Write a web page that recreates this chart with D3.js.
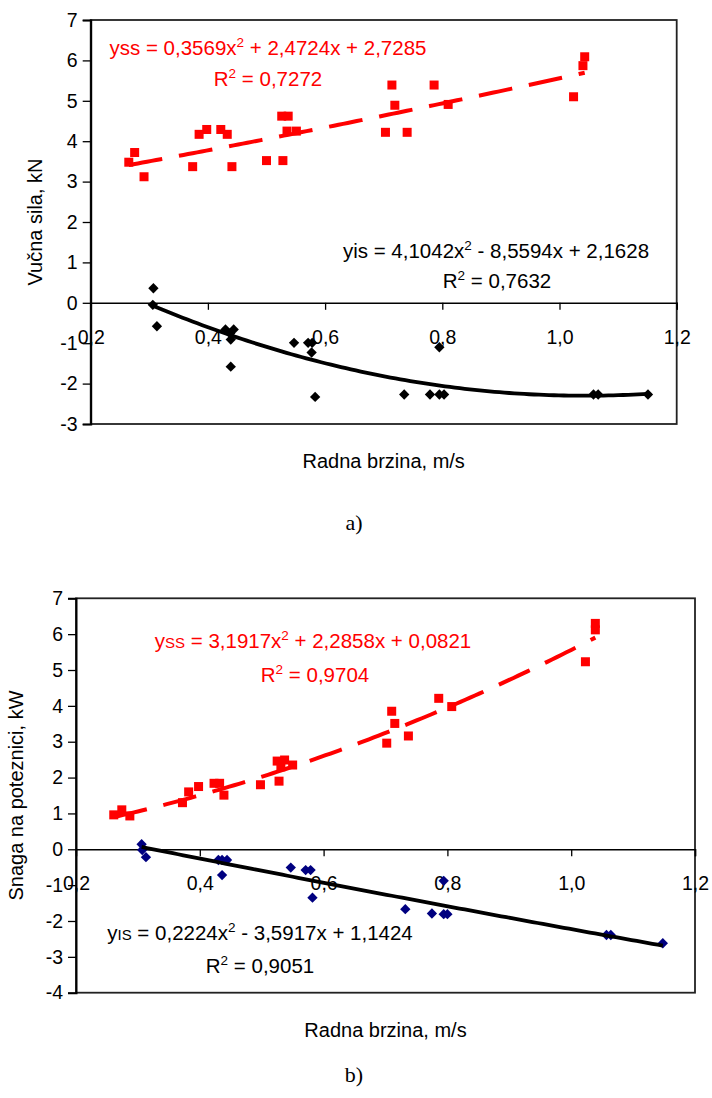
<!DOCTYPE html>
<html><head><meta charset="utf-8">
<script src="https://cdn.jsdelivr.net/npm/d3@7"></script>
<style>
body{margin:0;background:#fff}
svg{display:block}
text{font-family:"Liberation Sans",Arial,Helvetica,sans-serif;fill:#000}
</style>
</head><body>
<svg id="c" width="712" height="1098"></svg>
<script>
// ---------- data ----------
const xTicks = [0.2, 0.4, 0.6, 0.8, 1.0, 1.2];
const xTickLabels = ["0,2", "0,4", "0,6", "0,8", "1,0", "1,2"];
const yTicksA = [-3, -2, -1, 0, 1, 2, 3, 4, 5, 6, 7];
const yTicksB = [-4, -3, -2, -1, 0, 1, 2, 3, 4, 5, 6, 7];

// (a) Vučna sila, kN
const speedSS_a = [0.265,0.275,0.291,0.374,0.385,0.398,0.422,0.433,0.441,0.500,0.526,0.537,0.528,0.535,0.551,0.703,0.714,0.719,0.740,0.786,0.810,1.024,1.040,1.043];
const forceSS_a = [3.48,3.72,3.12,3.37,4.17,4.29,4.29,4.17,3.37,3.52,4.62,4.62,3.52,4.25,4.25,4.22,5.39,4.89,4.22,5.39,4.91,5.10,5.87,6.09];
const speedIS_a = [0.307,0.306,0.313,0.430,0.444,0.439,0.438,0.439,0.547,0.571,0.578,0.577,0.583,0.735,0.779,0.795,0.803,0.795,1.058,1.066,1.151];
const forceIS_a = [0.36,-0.05,-0.58,-0.66,-0.66,-0.91,-0.76,-1.58,-0.99,-0.99,-0.99,-1.23,-2.33,-2.27,-2.27,-2.27,-2.27,-1.10,-2.27,-2.27,-2.27];
const trendSS_a = [0.3569, 2.4724, 2.7285];
const trendIS_a = [4.1042, -8.5594, 2.1628];

// (b) Snaga na poteznici, kW
const speedSS_b = [0.261,0.274,0.287,0.372,0.382,0.398,0.423,0.432,0.439,0.498,0.528,0.525,0.537,0.531,0.550,0.702,0.710,0.715,0.737,0.786,0.807,1.023,1.039,1.039];
const powerSS_b = [0.96,1.10,0.93,1.30,1.60,1.75,1.84,1.84,1.51,1.80,1.90,2.46,2.49,2.30,2.35,2.96,3.85,3.51,3.16,4.21,3.98,5.23,6.12,6.30];
const speedIS_b = [0.306,0.307,0.313,0.430,0.436,0.444,0.436,0.547,0.571,0.579,0.582,0.732,0.775,0.794,0.800,0.794,1.057,1.064,1.148];
const powerIS_b = [0.14,-0.02,-0.22,-0.30,-0.30,-0.30,-0.72,-0.51,-0.58,-0.58,-1.35,-1.67,-1.79,-1.81,-1.81,-0.88,-2.39,-2.39,-2.62];
const trendSS_b = [3.1917, 2.2858, 0.0821];
const trendIS_b = [0.2224, -3.5917, 1.1424];

// ---------- drawing ----------
const svg = d3.select("#c");
const FS = 19.5;

function poly(c, x) { return c[0]*x*x + c[1]*x + c[2]; }

function eqText(g, x, y, parts, color) {
  const t = g.append("text").attr("x", x).attr("y", y).attr("text-anchor", "middle")
    .style("font-size", "20.5px").style("fill", color);
  let shift = 0;
  parts.forEach(([s, k]) => {
    const ts = t.append("tspan").text(s);
    if (k === "sup") { ts.attr("dy", -8 - shift).style("font-size", "13.5px"); shift = -8; }
    else if (k === "sub") { ts.attr("dy", 0 - shift).style("font-size", "15px"); shift = 0; }
    else { ts.attr("dy", 0 - shift); shift = 0; }
  });
}

function chart(cfg) {
  const g = svg.append("g");
  const x = d3.scaleLinear().domain([0.2, 1.2]).range([cfg.left, cfg.right]);
  const y = d3.scaleLinear().domain(cfg.yDomain).range([cfg.bottom, cfg.top]);

  g.append("rect").attr("x", cfg.left).attr("y", cfg.top)
    .attr("width", cfg.right - cfg.left).attr("height", cfg.bottom - cfg.top)
    .attr("fill", "none").attr("stroke", "#222").attr("stroke-width", 1.8);

  const ya = d3.axisLeft(y).tickValues(cfg.yTicks).tickSize(8).tickPadding(5)
    .tickFormat(d => String(d));
  const yg = g.append("g").attr("transform", `translate(${cfg.left},0)`).call(ya);
  yg.select(".domain").attr("stroke", "#000").attr("stroke-width", 2);
  yg.selectAll(".tick line").attr("stroke", "#000").attr("stroke-width", 1.3);
  yg.selectAll(".tick text").style("font-size", FS + "px").style("font-family", "Liberation Sans, Arial, sans-serif");

  const xa = d3.axisBottom(x).tickValues(xTicks).tickSize(7).tickPadding(20)
    .tickFormat((d, i) => xTickLabels[i]);
  const xg = g.append("g").attr("transform", `translate(0,${y(0)})`).call(xa);
  xg.select(".domain").attr("stroke", "#000").attr("stroke-width", 1.5);
  xg.selectAll(".tick line").attr("stroke", "#000").attr("stroke-width", 1.3);
  xg.selectAll(".tick text").style("font-size", FS + "px").style("font-family", "Liberation Sans, Arial, sans-serif");
  xg.selectAll(".tick").filter((d, i) => i === 0).select("line").remove();

  const sq = 9;
  g.append("g").selectAll("rect").data(cfg.ssX.map((v, i) => [v, cfg.ssY[i]])).join("rect")
    .attr("x", d => x(d[0]) - sq/2).attr("y", d => y(d[1]) - sq/2)
    .attr("width", sq).attr("height", sq).attr("fill", "#ff0000");
  const diamond = d3.symbol().type(d3.symbolDiamond2).size(68);
  g.append("g").selectAll("path").data(cfg.isX.map((v, i) => [v, cfg.isY[i]])).join("path")
    .attr("d", diamond).attr("transform", d => `translate(${x(d[0])},${y(d[1])})`)
    .attr("fill", cfg.isColor);

  const line = d3.line().x(d => x(d[0])).y(d => y(d[1]));
  const samples = (xs, c) => {
    const lo = d3.min(xs), hi = d3.max(xs);
    return d3.range(0, 101).map(k => { const v = lo + (hi - lo) * k / 100; return [v, poly(c, v)]; });
  };
  g.append("path").datum(samples(cfg.ssX, cfg.ssTrend)).attr("d", line)
    .attr("fill", "none").attr("stroke", "#ff0000").attr("stroke-width", 4)
    .attr("stroke-dasharray", "34,17");
  g.append("path").datum(samples(cfg.isX, cfg.isTrend)).attr("d", line)
    .attr("fill", "none").attr("stroke", "#000").attr("stroke-width", 3.8)
    .attr("stroke-linejoin", "round");

  g.append("text").attr("x", (cfg.left + cfg.right) / 2).attr("y", cfg.xTitleY)
    .attr("text-anchor", "middle").style("font-size", "20px").text("Radna brzina, m/s");
  g.append("text").attr("transform", `translate(${cfg.yTitleX},${(cfg.top + cfg.bottom) / 2}) rotate(-90)`)
    .attr("text-anchor", "middle").style("font-size", "20px").text(cfg.yTitle);
  g.append("text").attr("x", cfg.capX).attr("y", cfg.capY).attr("text-anchor", "middle")
    .style("font-family", "'Liberation Serif','Times New Roman',serif").style("font-size", "22px")
    .text(cfg.caption);

  cfg.eqs.forEach(e => eqText(g, e.x, e.y, e.parts, e.color));
}

chart({
  left: 90.7, right: 676.7, top: 20, bottom: 424, yDomain: [-3, 7], yTicks: yTicksA,
  ssX: speedSS_a, ssY: forceSS_a, isX: speedIS_a, isY: forceIS_a, isColor: "#000",
  ssTrend: trendSS_a, isTrend: trendIS_a,
  xTitleY: 468, yTitleX: 42, yTitle: "Vučna sila, kN", capX: 354, capY: 530, caption: "a)",
  eqs: [
    {x: 268, y: 55, color: "#ff0000", parts: [["yss = 0,3569x","n"],["2","sup"],[" + 2,4724x + 2,7285","n"]]},
    {x: 268, y: 86, color: "#ff0000", parts: [["R","n"],["2","sup"],[" = 0,7272","n"]]},
    {x: 496, y: 258, color: "#000", parts: [["yis = 4,1042x","n"],["2","sup"],[" - 8,5594x + 2,1628","n"]]},
    {x: 497, y: 288, color: "#000", parts: [["R","n"],["2","sup"],[" = 0,7632","n"]]}
  ]
});

chart({
  left: 76, right: 695, top: 598.3, bottom: 992.7, yDomain: [-4, 7], yTicks: yTicksB,
  ssX: speedSS_b, ssY: powerSS_b, isX: speedIS_b, isY: powerIS_b, isColor: "#000080",
  ssTrend: trendSS_b, isTrend: trendIS_b,
  xTitleY: 1037, yTitleX: 23, yTitle: "Snaga na poteznici, kW", capX: 354, capY: 1082, caption: "b)",
  eqs: [
    {x: 313, y: 648, color: "#ff0000", parts: [["y","n"],["SS","sub"],[" = 3,1917x","n"],["2","sup"],[" + 2,2858x + 0,0821","n"]]},
    {x: 315, y: 682, color: "#ff0000", parts: [["R","n"],["2","sup"],[" = 0,9704","n"]]},
    {x: 260, y: 940, color: "#000", parts: [["y","n"],["IS","sub"],[" = 0,2224x","n"],["2","sup"],[" - 3,5917x + 1,1424","n"]]},
    {x: 260, y: 973, color: "#000", parts: [["R","n"],["2","sup"],[" = 0,9051","n"]]}
  ]
});
</script>
</body></html>
